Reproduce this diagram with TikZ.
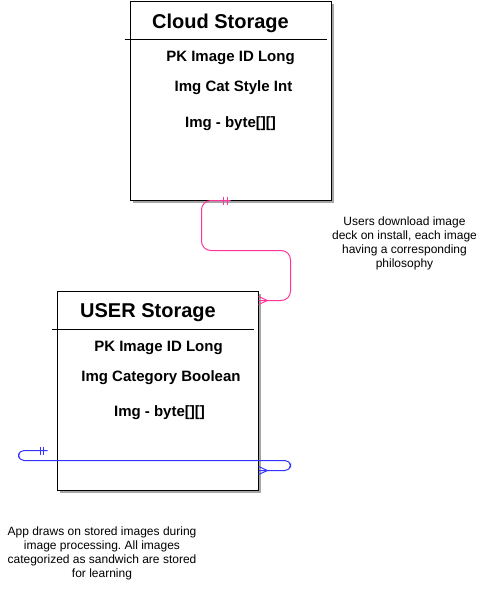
\documentclass[tikz,border=0pt]{standalone}
\usepackage{fontspec}
\setmainfont{Liberation Sans}
\usetikzlibrary{calc, shadows}
\definecolor{relpink}{RGB}{255,51,153}
\definecolor{relblue}{RGB}{51,51,255}
\frenchspacing

\begin{document}
\begin{tikzpicture}[x=0.75pt, y=-0.75pt, line width=0.75pt]
                \tikzstyle{table}=[rectangle, draw=black, fill=white, inner sep=0pt, minimum width=150.75pt, minimum height=149.25pt, drop shadow={shadow xshift=2pt, shadow yshift=-2pt, fill=black, opacity=0.35}]
                \tikzstyle{title}=[font=\fontsize{15}{18}\selectfont\bfseries]
                \tikzstyle{field}=[font=\fontsize{11.25}{13.5}\selectfont\bfseries]
                \tikzstyle{note}=[align=center, font=\fontsize{9}{10.5}\selectfont]

                \useasboundingbox (0,0) rectangle (483,604);

                % Define the tables
                \node[table] (cloud) at (230.5,100.5) {};
                \node[table] (user) at (157.5,390.5) {};
                \draw ($(cloud.north west)+(-5,39)$) -- ($(cloud.north east)+(-5,39)$);
                \draw ($(user.north west)+(-5,39)$) -- ($(user.north east)+(-5,39)$);

                % Fields of the tables
                \node[title] (cloudtitle) at (220.5,23) {Cloud Storage};
                \node[field] (cloudpk) at (230.5,58) {PK Image ID Long};
                \node[field] (cloudcat) at (233.5,88) {Img Cat Style Int};
                \node[field] (cloudimg) at (230.5,124) {Img - byte[][]};

                \node[title] (usertitle) at (148,313) {USER Storage};
                \node[field] (userpk) at (158.5,348) {PK Image ID Long};
                \node[field] (usercat) at (161,378) {Img Category Boolean};
                \node[field] (userimg) at (159.5,413) {Img - byte[][]};

                % Notes
                \node[note] (dlnote) at (404.5,243) {Users download image\\deck on install, each image\\having a corresponding\\philosophy};
                \node[note] (appnote) at (102,553) {App draws on stored images during\\image processing. All images\\categorized as sandwich are stored\\for learning};

                % Connect the tables
                \coordinate (pinkend) at ($(user.north east)+(0,10)$);
                \draw[relpink, rounded corners=7pt] (cloud.south) -- ++(-29,0) -- ++(0,50) -| ($(pinkend)+(32,0)$) -- (pinkend);
                \foreach \dx in {-7.5,-3.5}
                    \draw[relpink] ($(cloud.south)+(\dx,-4)$) -- ++(0,8);
                \draw[relpink] ($(pinkend)+(0,-4)$) -- ($(pinkend)+(9,0)$) -- ($(pinkend)+(0,4)$);

                \coordinate (bluestart) at ($(user.south west)+(-9,-40)$);
                \coordinate (blueend) at ($(user.south east)+(0,-20)$);
                \draw[relblue, rounded corners=4pt] (bluestart) -- ++(-29,0) -- ++(0,10) -| ($(blueend)+(32,0)$) -- (blueend);
                \foreach \dx in {-7,-4}
                    \draw[relblue] ($(bluestart)+(\dx,-4)$) -- ++(0,8);
                \draw[relblue] ($(blueend)+(0,-4)$) -- ($(blueend)+(9,0)$) -- ($(blueend)+(0,4)$);

            \end{tikzpicture}
\end{document}
